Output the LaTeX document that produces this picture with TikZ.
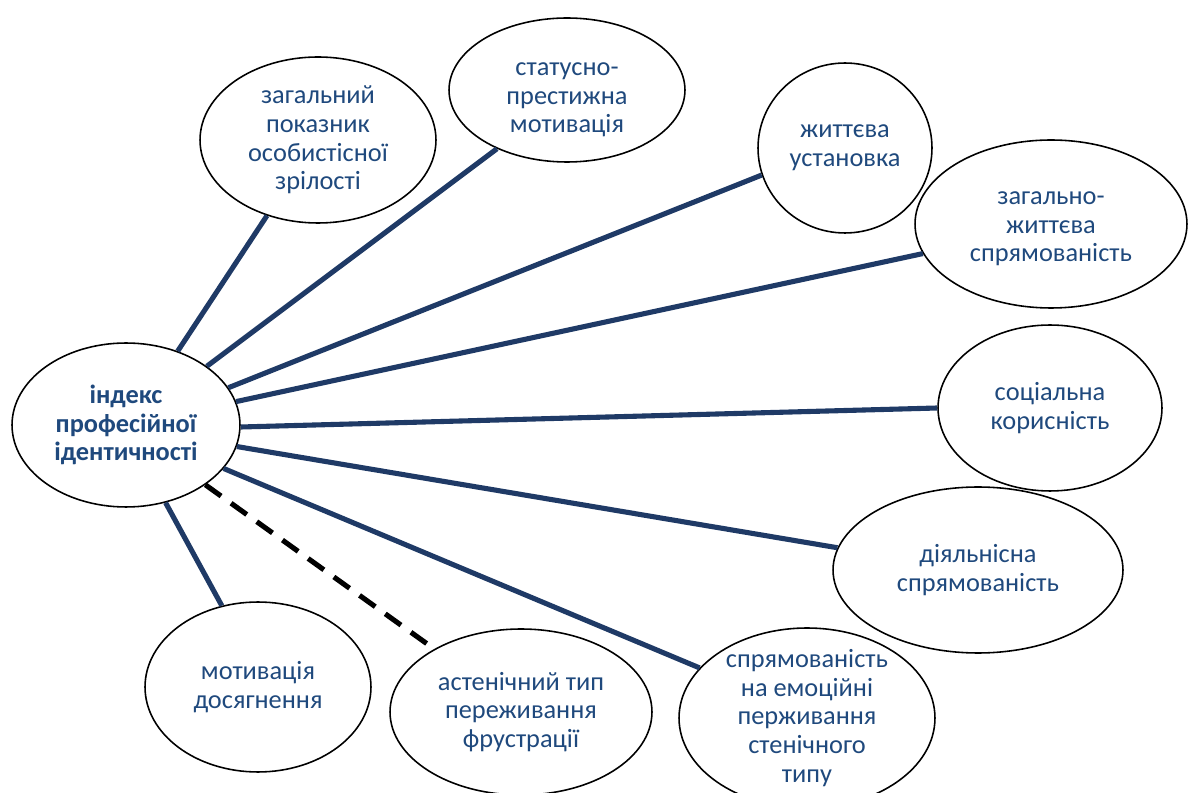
\documentclass[tikz,border=0pt]{standalone}
\usepackage{fontspec}
\setmainfont{Carlito}
\usetikzlibrary{shapes.geometric}
\definecolor{txtblue}{RGB}{31,73,125}
\definecolor{lineblue}{RGB}{31,58,102}
\tikzset{
    bub/.style={draw, ellipse, fill=white, line width=0.9pt, inner sep=0pt},
    lbl/.style={align=center, text=txtblue, font=\fontsize{15}{16.3}\selectfont},
    link/.style={draw=lineblue, line width=2.9pt},
    weak/.style={draw=black, line width=2.9pt, dash pattern=on 11pt off 7pt}
}

\begin{document}
\begin{tikzpicture}[x=0.02cm, y=-0.02cm]
            \useasboundingbox (0,0) rectangle (1194,793);
            % ellipses
            \node[bub, minimum width=4.56cm, minimum height=3.28cm] (idx) at (126,425) {};
            \node[bub, minimum width=4.72cm, minimum height=3.32cm] (zag) at (318,140) {};
            \node[bub, minimum width=4.72cm, minimum height=2.88cm] (stat) at (567,90) {};
            \node[bub, minimum width=3.48cm, minimum height=3.40cm] (zhyt) at (845,148) {};
            \node[bub, minimum width=5.44cm, minimum height=3.36cm] (zagzh) at (1051,224) {};
            \node[bub, minimum width=4.48cm, minimum height=3.32cm] (soc) at (1050,408) {};
            \node[bub, minimum width=5.80cm, minimum height=3.32cm] (dial) at (978,570) {};
            \node[bub, minimum width=5.12cm, minimum height=3.60cm] (emo) at (807,718) {};
            \node[bub, minimum width=5.24cm, minimum height=3.32cm] (ast) at (521,712) {};
            \node[bub, minimum width=4.52cm, minimum height=3.40cm] (mot) at (258,687) {};
            % texts
            \node[lbl, font=\fontsize{15}{16.3}\selectfont\bfseries] (idxt) at (idx) {індекс\\професійної\\ідентичності};
            \node[lbl] (zagt) at (zag) {загальний\\показник\\особистісної\\зрілості};
            \node[lbl] (statt) at (567,100) {статусно-\\престижна\\мотивація};
            \node[lbl] (zhytt) at (zhyt) {життєва\\установка};
            \node[lbl] (zagzht) at (1051,229) {загально-\\життєва\\спрямованість};
            \node[lbl] (soct) at (soc) {соціальна\\корисність};
            \node[lbl] (dialt) at (dial) {діяльнісна\\спрямованість};
            \node[lbl] (emot) at (emo) {спрямованість\\на емоційні\\перживання\\стенічного\\типу};
            \node[lbl] (astt) at (ast) {астенічний тип\\переживання\\фрустрації};
            \node[lbl] (mott) at (mot) {мотивація\\досягнення};
            % links
            \draw[link] (idx.55) -- (zag.236);
            \draw[link] (idx.36) -- (stat.220);
            \draw[link] (idx.20) -- (zhyt.198);
            \draw[link] (idx.12) -- (zagzh.193);
            \draw[link] (idx.-1) -- (soc.180);
            \draw[link] (idx.-11) -- (dial.171);
            \draw[link] (idx.-24) -- (emo.155);
            \draw[weak] (idx.-37) -- (ast.144);
            \draw[link] (idx.-63) -- (mot.114);
        \end{tikzpicture}
\end{document}
